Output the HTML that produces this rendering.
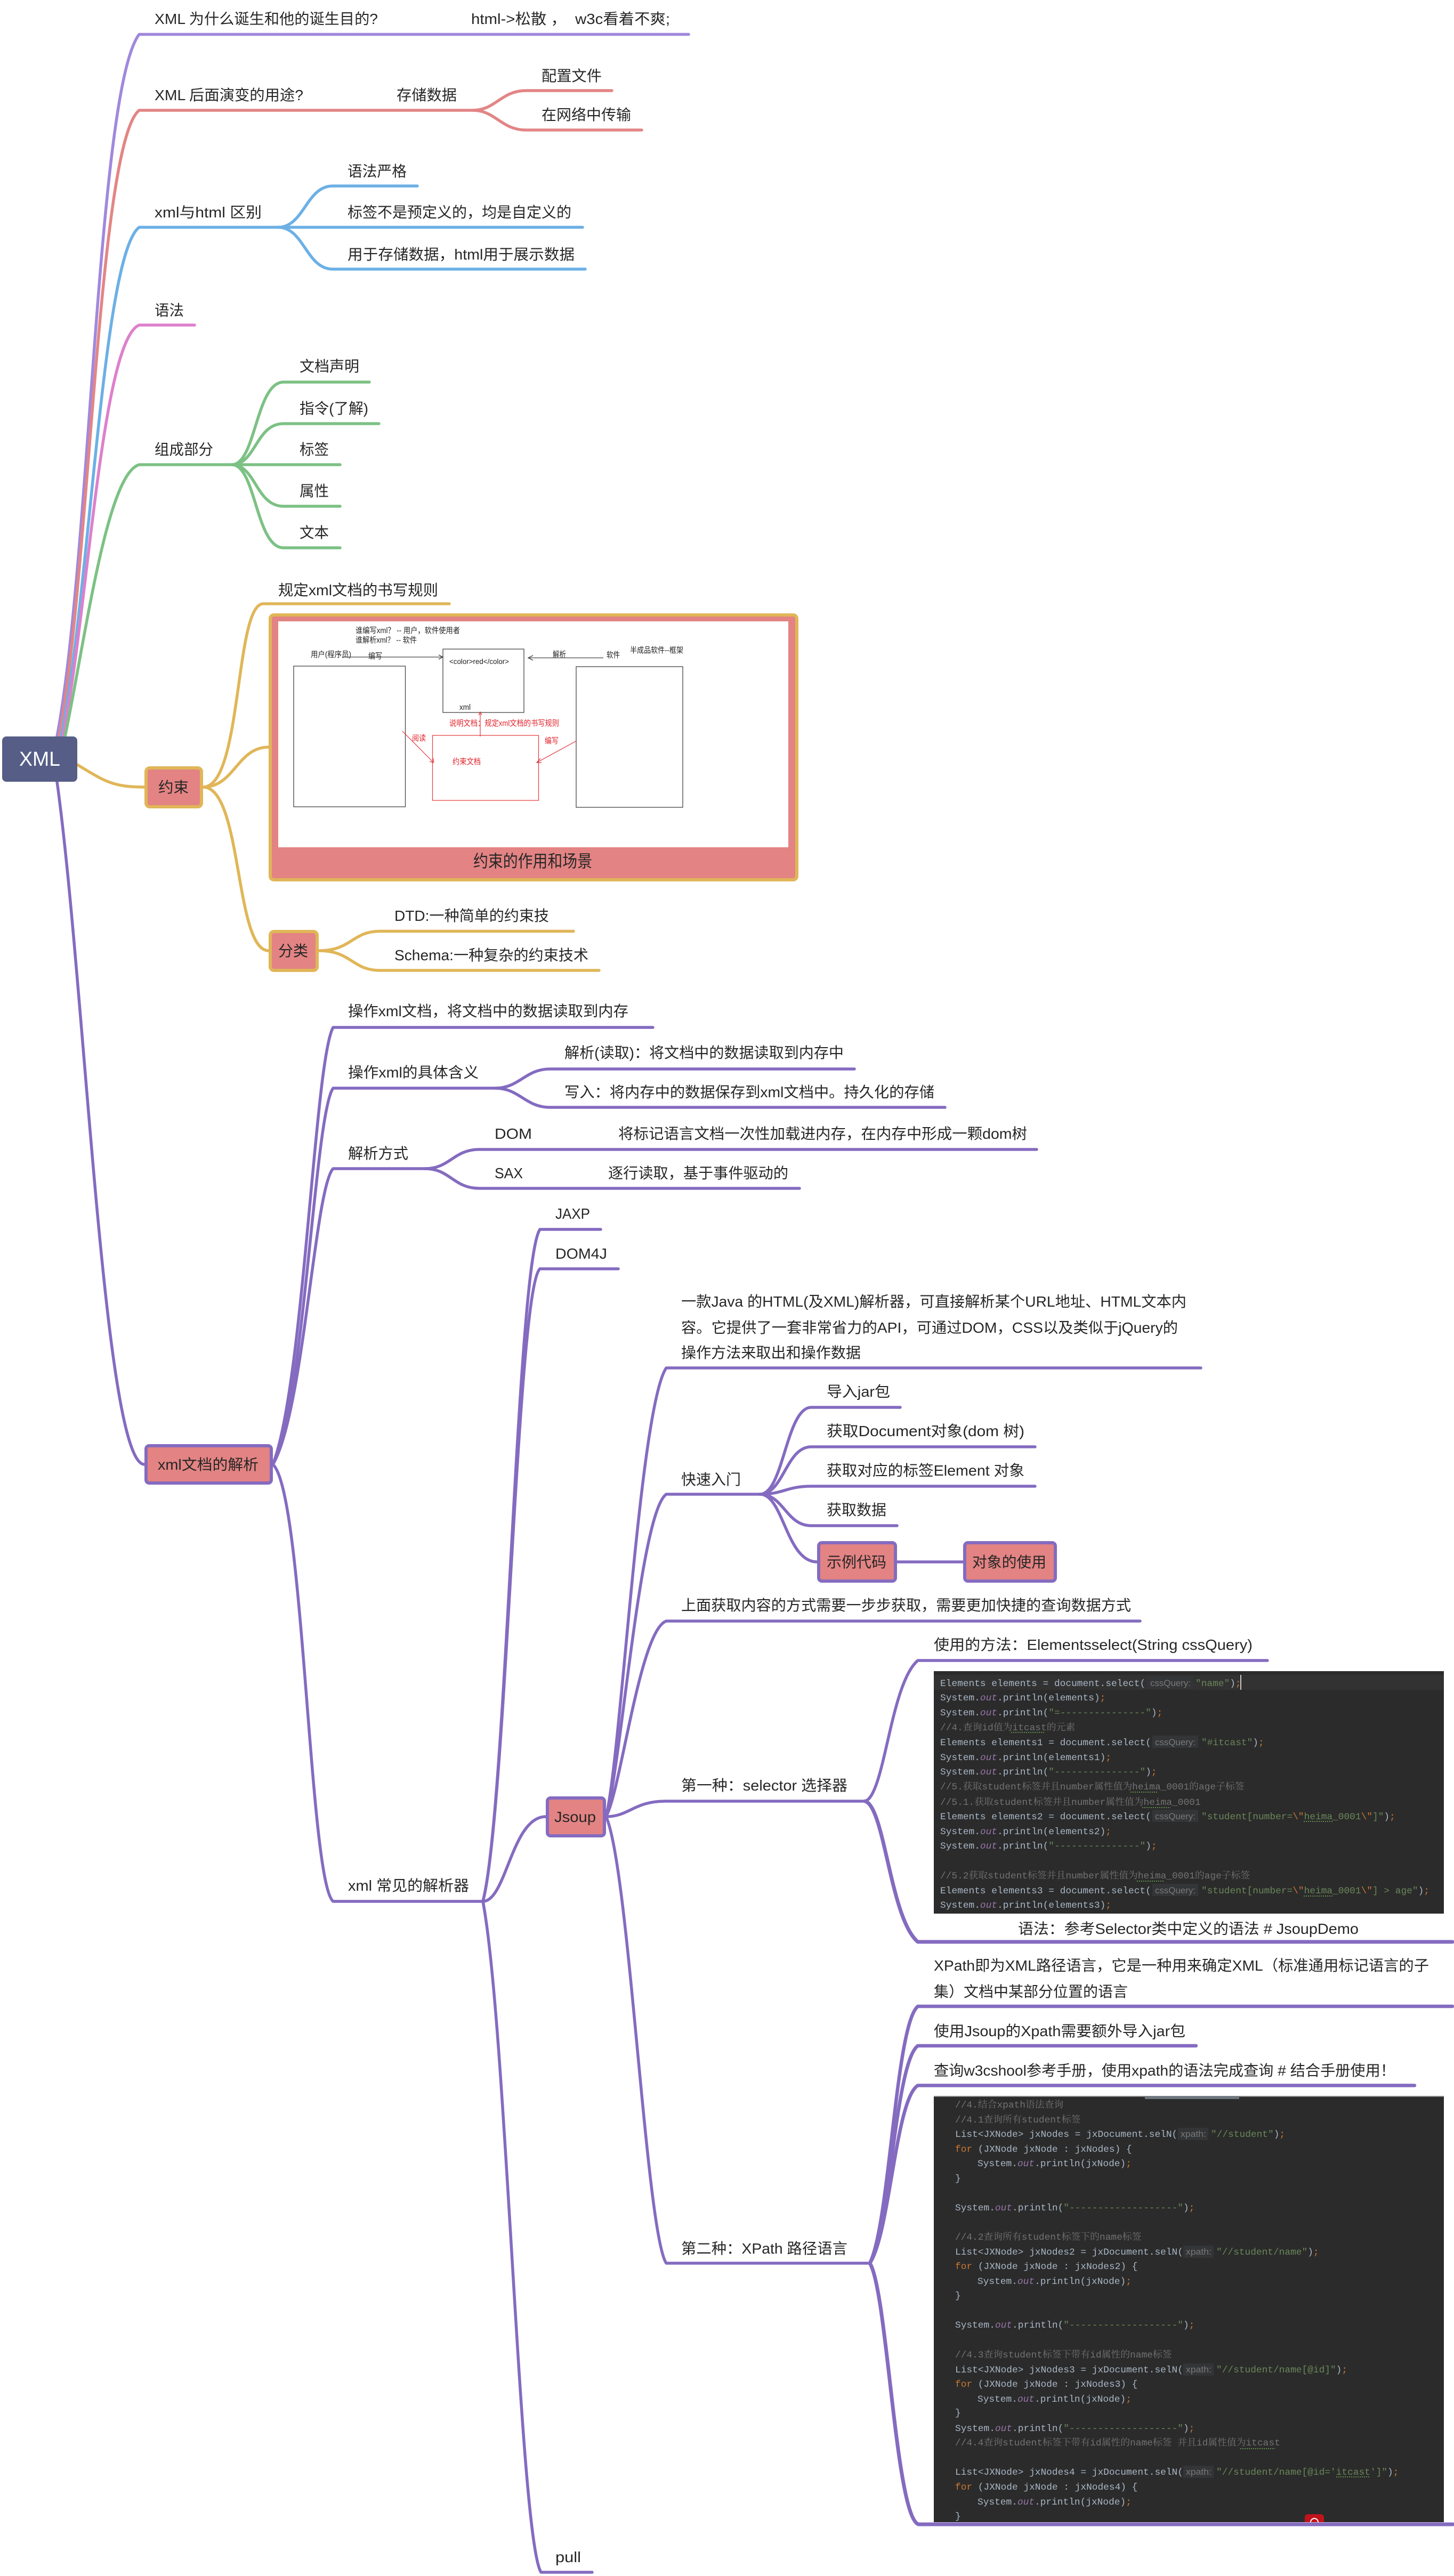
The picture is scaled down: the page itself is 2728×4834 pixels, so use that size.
<!DOCTYPE html>
<html><head><meta charset="utf-8"><style>
html,body{margin:0;padding:0;background:#fff}
svg{display:block}
text{font-family:"Liberation Sans","Noto Sans CJK SC",sans-serif;font-size:28px;fill:#262626;white-space:pre}
.l{fill:none;stroke-width:5.5;stroke-linecap:round;stroke-linejoin:round}
.p1{stroke:#a088dd}.r{stroke:#e38585}.b{stroke:#6cb0e6}.k{stroke:#dd80cc}.g{stroke:#7cc184}.y{stroke:#e0b658}.p{stroke:#846bc0}
.n{fill:#e38383;stroke-width:6}
.sm text{font-size:15px;fill:#222}
.sm .red{fill:#e2222a}
.code text{font-family:"Liberation Mono","Noto Serif CJK SC",monospace;font-size:17.83px;fill:#a9b7c6}
.code .o{font-style:italic;fill:#9876aa}
.code .s{fill:#6a8759}
.code .e{fill:#cc7832}
.code .m{fill:#737373}
.code text.h{font-family:"Liberation Sans",sans-serif;font-size:17px;fill:#787878}
.code .sq{stroke:#5f8c4f;stroke-width:2;stroke-dasharray:2 2;fill:none}
.code .hb{fill:#333537}
</style></head><body>
<svg xmlns="http://www.w3.org/2000/svg" width="2728" height="4834" viewBox="0 0 2728 4834">
<rect width="2728" height="4834" fill="#fff"/>

<!-- root branches -->
<path class="l p1" d="M107,1382C170,1050 182,170 261,64.5H1292"/>
<path class="l r" d="M111,1382C168,1080 184,270 261,207H887C930,207 940,170 987,170H1148"/>
<path class="l r" d="M887,207C930,207 940,244 987,244H1204"/>
<path class="l b" d="M115,1382C170,1100 192,480 261,426.5H1093"/>
<path class="l b" d="M522,426.5C570,426.5 575,349 624,349H783"/>
<path class="l b" d="M522,426.5C570,426.5 575,505 624,505H1098"/>
<path class="l k" d="M118,1382C165,1150 190,640 261,610H365"/>
<path class="l g" d="M122,1382C160,1200 200,890 261,872H638"/>
<path class="l g" d="M435,872C480,872 480,717 532,717H693"/>
<path class="l g" d="M435,872C480,872 480,795 532,795H711"/>
<path class="l g" d="M435,872C480,872 480,950 532,950H638"/>
<path class="l g" d="M435,872C480,872 480,1028 532,1028H638"/>

<!-- gold -->
<path class="l y" d="M145,1435C195,1465 210,1477 271,1477"/>
<path class="l y" d="M381,1477C455,1477 440,1133 494,1133H843"/>
<path class="l y" d="M381,1477C440,1477 445,1402 504,1402"/>
<path class="l y" d="M381,1477C455,1477 440,1784 504,1784"/>
<path class="l y" d="M598,1784C660,1784 660,1747.5 713,1747.5H1076"/>
<path class="l y" d="M598,1784C660,1784 660,1821 713,1821H1124"/>

<!-- purple tree -->
<path class="l p" d="M107,1467C160,1850 195,2748 271,2748"/>
<path class="l p" d="M512,2748C570,2600 590,1990 625,1928H1225"/>
<path class="l p" d="M512,2748C570,2650 590,2090 625,2042H929C975,2042 985,2006 1032,2006H1603"/>
<path class="l p" d="M929,2042C975,2042 985,2078 1032,2078H1773"/>
<path class="l p" d="M512,2748C570,2650 590,2230 625,2193H797C845,2193 850,2157 900,2157H1945"/>
<path class="l p" d="M797,2193C845,2193 850,2230 900,2230H1500"/>
<path class="l p" d="M512,2748C570,2800 580,3530 625,3568H906"/>
<path class="l p" d="M906,3568C950,3400 970,2370 1013,2307H1127"/>
<path class="l p" d="M906,3568C950,3400 970,2420 1013,2381H1160"/>
<path class="l p" d="M906,3568C950,3568 960,3409 1024,3409"/>
<path class="l p" d="M906,3568C950,3800 975,4760 1015,4827H1111"/>
<path class="l p" d="M1137,3409C1165,3300 1200,2640 1250,2567H2253"/>
<path class="l p" d="M1137,3409C1165,3320 1200,2840 1250,2804H1426"/>
<path class="l p" d="M1137,3409C1165,3360 1200,3060 1250,3042H2139"/>
<path class="l p" d="M1137,3409C1180,3409 1190,3380 1248,3380H1623"/>
<path class="l p" d="M1137,3409C1180,3500 1212,4190 1250,4247H1632"/>
<path class="l p" d="M1426,2804C1470,2804 1475,2641 1522,2641H1689"/>
<path class="l p" d="M1426,2804C1470,2804 1475,2715 1522,2715H1942"/>
<path class="l p" d="M1426,2804C1470,2804 1475,2789 1522,2789H1942"/>
<path class="l p" d="M1426,2804C1470,2804 1475,2863 1522,2863H1683"/>
<path class="l p" d="M1426,2804C1470,2804 1475,2931 1533,2931"/>
<path class="l p" d="M1683,2931H1807"/>
<path class="l p" d="M1623,3380C1660,3370 1670,3160 1722,3116H2378"/>
<path class="l p" style="stroke-width:7" d="M1623,3380C1660,3390 1670,3600 1722,3644H2725"/>
<path class="l p" style="stroke-width:6.5" d="M1632,4247C1670,4170 1680,3800 1722,3765H2725"/>
<path class="l p" style="stroke-width:6.5" d="M1632,4247C1670,4180 1680,3870 1722,3839H2244"/>
<path class="l p" style="stroke-width:6.5" d="M1632,4247C1670,4190 1680,3940 1722,3913.5H2654"/>

<!-- root -->
<rect x="4" y="1382" width="141" height="85" rx="8" fill="#565e87"/>
<text x="36" y="1437" textLength="77" lengthAdjust="spacingAndGlyphs" style="font-size:38px;fill:#fff">XML</text>

<!-- top labels -->
<text x="290" y="45" textLength="419" lengthAdjust="spacingAndGlyphs">XML 为什么诞生和他的诞生目的?</text>
<text x="884" y="45" textLength="373" lengthAdjust="spacingAndGlyphs">html-&gt;松散 ，  w3c看着不爽;</text>
<text x="290" y="188" textLength="279" lengthAdjust="spacingAndGlyphs">XML 后面演变的用途?</text>
<text x="744" y="188" textLength="113" lengthAdjust="spacingAndGlyphs">存储数据</text>
<text x="1016" y="152" textLength="113" lengthAdjust="spacingAndGlyphs">配置文件</text>
<text x="1016" y="225" textLength="168" lengthAdjust="spacingAndGlyphs">在网络中传输</text>
<text x="290" y="408" textLength="201" lengthAdjust="spacingAndGlyphs">xml与html 区别</text>
<text x="652" y="331" textLength="111" lengthAdjust="spacingAndGlyphs">语法严格</text>
<text x="652" y="408" textLength="420" lengthAdjust="spacingAndGlyphs">标签不是预定义的，均是自定义的</text>
<text x="652" y="487" textLength="426" lengthAdjust="spacingAndGlyphs">用于存储数据，html用于展示数据</text>
<text x="290" y="592" textLength="55" lengthAdjust="spacingAndGlyphs">语法</text>
<text x="290" y="853" textLength="110" lengthAdjust="spacingAndGlyphs">组成部分</text>
<text x="562" y="697" textLength="112" lengthAdjust="spacingAndGlyphs">文档声明</text>
<text x="562" y="776" textLength="129" lengthAdjust="spacingAndGlyphs">指令(了解)</text>
<text x="562" y="853" textLength="55" lengthAdjust="spacingAndGlyphs">标签</text>
<text x="562" y="931" textLength="55" lengthAdjust="spacingAndGlyphs">属性</text>
<text x="562" y="1009" textLength="55" lengthAdjust="spacingAndGlyphs">文本</text>

<!-- 约束 -->
<rect class="n y" x="274" y="1441" width="104" height="73" rx="7"/>
<text x="297" y="1487" textLength="57" lengthAdjust="spacingAndGlyphs">约束</text>
<text x="522" y="1117" textLength="300" lengthAdjust="spacingAndGlyphs">规定xml文档的书写规则</text>
<rect x="507" y="1154" width="988" height="497" rx="7" fill="#e38383" stroke="#e0b658" stroke-width="6"/>
<rect x="522" y="1166" width="957" height="424" fill="#fff"/>
<text x="888" y="1627" textLength="223" lengthAdjust="spacingAndGlyphs" style="font-size:32px">约束的作用和场景</text>

<g class="sm">
<text x="667" y="1188" textLength="196" lengthAdjust="spacingAndGlyphs">谁编写xml？ -- 用户，软件使用者</text>
<text x="667" y="1206" textLength="115" lengthAdjust="spacingAndGlyphs">谁解析xml？ -- 软件</text>
<text x="583" y="1233" textLength="76" lengthAdjust="spacingAndGlyphs">用户(程序员)</text>
<text x="691" y="1236" textLength="26" lengthAdjust="spacingAndGlyphs">编写</text>
<text x="843" y="1246" textLength="112" lengthAdjust="spacingAndGlyphs" style="font-size:14px">&lt;color&gt;red&lt;/color&gt;</text>
<text x="862" y="1332" textLength="21" lengthAdjust="spacingAndGlyphs">xml</text>
<text x="1037" y="1233" textLength="25" lengthAdjust="spacingAndGlyphs">解析</text>
<text x="1138" y="1234" textLength="25" lengthAdjust="spacingAndGlyphs">软件</text>
<text x="1182" y="1225" textLength="100" lengthAdjust="spacingAndGlyphs">半成品软件--框架</text>
<text class="red" x="843" y="1362" textLength="206" lengthAdjust="spacingAndGlyphs">说明文档：规定xml文档的书写规则</text>
<text class="red" x="773" y="1390" textLength="26" lengthAdjust="spacingAndGlyphs">阅读</text>
<text class="red" x="1022" y="1395" textLength="26" lengthAdjust="spacingAndGlyphs">编写</text>
<text class="red" x="849" y="1434" textLength="53" lengthAdjust="spacingAndGlyphs">约束文档</text>
<g fill="none" stroke="#444" stroke-width="1.3">
<rect x="551" y="1250" width="209.5" height="264"/>
<rect x="831" y="1218" width="152" height="119"/>
<rect x="1081" y="1251" width="200" height="264"/>
<path d="M642,1233H831M823,1229L831,1233L823,1237"/>
<path d="M1132,1234.5H991M1000,1230L991,1234.5L1000,1239"/>
</g>
<g fill="none" stroke="#e5353b" stroke-width="1.2">
<rect x="811.5" y="1380" width="199" height="122"/>
<path d="M901,1382V1336M898,1342L901,1336L904,1342"/>
<path d="M755,1372L813.5,1431M806,1429L813.5,1431L813,1423"/>
<path d="M1082,1390L1007,1431M1014,1423L1007,1431L1016,1431"/>
</g>
</g>

<!-- 分类 -->
<rect class="n y" x="507" y="1748" width="88" height="73" rx="7"/>
<text x="522" y="1794" textLength="56" lengthAdjust="spacingAndGlyphs">分类</text>
<text x="740" y="1728" textLength="290" lengthAdjust="spacingAndGlyphs">DTD:一种简单的约束技</text>
<text x="740" y="1802" textLength="364" lengthAdjust="spacingAndGlyphs">Schema:一种复杂的约束技术</text>

<!-- xml文档的解析 -->
<rect class="n p" x="274" y="2713" width="235" height="70" rx="6"/>
<text x="296" y="2758" textLength="189" lengthAdjust="spacingAndGlyphs">xml文档的解析</text>
<text x="653" y="1907" textLength="526" lengthAdjust="spacingAndGlyphs">操作xml文档，将文档中的数据读取到内存</text>
<text x="653" y="2022" textLength="245" lengthAdjust="spacingAndGlyphs">操作xml的具体含义</text>
<text x="1059" y="1985" textLength="524" lengthAdjust="spacingAndGlyphs">解析(读取)：将文档中的数据读取到内存中</text>
<text x="1059" y="2059" textLength="694" lengthAdjust="spacingAndGlyphs">写入：将内存中的数据保存到xml文档中。持久化的存储</text>
<text x="653" y="2174" textLength="113" lengthAdjust="spacingAndGlyphs">解析方式</text>
<text x="928" y="2137" textLength="70" lengthAdjust="spacingAndGlyphs">DOM</text>
<text x="1160" y="2137" textLength="767" lengthAdjust="spacingAndGlyphs">将标记语言文档一次性加载进内存，在内存中形成一颗dom树</text>
<text x="928" y="2211" textLength="53" lengthAdjust="spacingAndGlyphs">SAX</text>
<text x="1141" y="2211" textLength="338" lengthAdjust="spacingAndGlyphs">逐行读取，基于事件驱动的</text>
<text x="653" y="3548" textLength="227" lengthAdjust="spacingAndGlyphs">xml 常见的解析器</text>
<text x="1042" y="2287" textLength="65" lengthAdjust="spacingAndGlyphs">JAXP</text>
<text x="1042" y="2362" textLength="97" lengthAdjust="spacingAndGlyphs">DOM4J</text>
<text x="1042" y="4808" textLength="48" lengthAdjust="spacingAndGlyphs">pull</text>

<!-- Jsoup -->
<rect class="n p" x="1027" y="3374" width="107" height="71" rx="6"/>
<text x="1040" y="3419" textLength="78" lengthAdjust="spacingAndGlyphs">Jsoup</text>
<text x="1278" y="2452" textLength="948" lengthAdjust="spacingAndGlyphs">一款Java 的HTML(及XML)解析器，可直接解析某个URL地址、HTML文本内</text>
<text x="1278" y="2501" textLength="932" lengthAdjust="spacingAndGlyphs">容。它提供了一套非常省力的API，可通过DOM，CSS以及类似于jQuery的</text>
<text x="1278" y="2548" textLength="337" lengthAdjust="spacingAndGlyphs">操作方法来取出和操作数据</text>
<text x="1278" y="2786" textLength="112" lengthAdjust="spacingAndGlyphs">快速入门</text>
<text x="1551" y="2621" textLength="119" lengthAdjust="spacingAndGlyphs">导入jar包</text>
<text x="1551" y="2695" textLength="371" lengthAdjust="spacingAndGlyphs">获取Document对象(dom 树)</text>
<text x="1551" y="2769" textLength="371" lengthAdjust="spacingAndGlyphs">获取对应的标签Element 对象</text>
<text x="1551" y="2843" textLength="112" lengthAdjust="spacingAndGlyphs">获取数据</text>
<rect class="n p" x="1536" y="2895" width="144" height="72" rx="6"/>
<text x="1551" y="2941" textLength="112" lengthAdjust="spacingAndGlyphs">示例代码</text>
<rect class="n p" x="1810" y="2895" width="170" height="72" rx="6"/>
<text x="1824" y="2941" textLength="139" lengthAdjust="spacingAndGlyphs">对象的使用</text>
<text x="1278" y="3022" textLength="844" lengthAdjust="spacingAndGlyphs">上面获取内容的方式需要一步步获取，需要更加快捷的查询数据方式</text>
<text x="1278" y="3360" textLength="312" lengthAdjust="spacingAndGlyphs">第一种：selector 选择器</text>
<text x="1752" y="3096" textLength="598" lengthAdjust="spacingAndGlyphs">使用的方法：Elementsselect(String cssQuery)</text>
<text x="1910" y="3629" textLength="639" lengthAdjust="spacingAndGlyphs">语法：参考Selector类中定义的语法 # JsoupDemo</text>
<text x="1278" y="4229" textLength="312" lengthAdjust="spacingAndGlyphs">第二种：XPath 路径语言</text>
<text x="1752" y="3698" textLength="929" lengthAdjust="spacingAndGlyphs">XPath即为XML路径语言，它是一种用来确定XML（标准通用标记语言的子</text>
<text x="1752" y="3747" textLength="364" lengthAdjust="spacingAndGlyphs">集）文档中某部分位置的语言</text>
<text x="1752" y="3821" textLength="472" lengthAdjust="spacingAndGlyphs">使用Jsoup的Xpath需要额外导入jar包</text>
<text x="1752" y="3895" textLength="866" lengthAdjust="spacingAndGlyphs">查询w3cshool参考手册，使用xpath的语法完成查询 # 结合手册使用！</text>

<!-- code block 1 -->
<g class="code">
<rect x="1752" y="3136" width="957" height="455" fill="#2b2b2b"/>
<rect x="1752" y="3143" width="957" height="28" fill="#323232"/>
<rect class="hb" x="2152" y="3146" width="86" height="23"/>
<rect class="hb" x="2162" y="3257" width="86" height="23"/>
<rect class="hb" x="2162" y="3396" width="86" height="23"/>
<rect class="hb" x="2162" y="3535" width="86" height="23"/>
<text x="1764" y="3164">Elements elements = document.select(</text>
<text class="h" x="2158" y="3164" textLength="76" lengthAdjust="spacingAndGlyphs">cssQuery:</text>
<text x="2243" y="3164"><tspan class="s">"name"</tspan>)<tspan class="e">;</tspan></text>
<rect x="2327" y="3143" width="2" height="28" fill="#c8c8c8"/>
<text x="1764" y="3191">System.<tspan class="o">out</tspan>.println(elements)<tspan class="e">;</tspan></text>
<text x="1764" y="3219">System.<tspan class="o">out</tspan>.println(<tspan class="s">"=---------------"</tspan>)<tspan class="e">;</tspan></text>
<text class="m" x="1764" y="3247" style="fill:#737373">//4.查询id值为itcast的元素</text>
<text x="1764" y="3275">Elements elements1 = document.select(</text>
<text class="h" x="2167" y="3275" textLength="76" lengthAdjust="spacingAndGlyphs">cssQuery:</text>
<text x="2254" y="3275"><tspan class="s">"#itcast"</tspan>)<tspan class="e">;</tspan></text>
<text x="1764" y="3303">System.<tspan class="o">out</tspan>.println(elements1)<tspan class="e">;</tspan></text>
<text x="1764" y="3330">System.<tspan class="o">out</tspan>.println(<tspan class="s">"---------------"</tspan>)<tspan class="e">;</tspan></text>
<text class="m" x="1764" y="3358" style="fill:#737373">//5.获取student标签并且number属性值为heima_0001的age子标签</text>
<text class="m" x="1764" y="3387" style="fill:#737373">//5.1.获取student标签并且number属性值为heima_0001</text>
<text x="1764" y="3414">Elements elements2 = document.select(</text>
<text class="h" x="2167" y="3414" textLength="76" lengthAdjust="spacingAndGlyphs">cssQuery:</text>
<text x="2254" y="3414"><tspan class="s">"student[number=</tspan><tspan class="e">\"</tspan><tspan class="s">heima_0001</tspan><tspan class="e">\"</tspan><tspan class="s">]"</tspan>)<tspan class="e">;</tspan></text>
<text x="1764" y="3442">System.<tspan class="o">out</tspan>.println(elements2)<tspan class="e">;</tspan></text>
<text x="1764" y="3469">System.<tspan class="o">out</tspan>.println(<tspan class="s">"---------------"</tspan>)<tspan class="e">;</tspan></text>
<text class="m" x="1764" y="3525" style="fill:#737373">//5.2获取student标签并且number属性值为heima_0001的age子标签</text>
<text x="1764" y="3553">Elements elements3 = document.select(</text>
<text class="h" x="2167" y="3553" textLength="76" lengthAdjust="spacingAndGlyphs">cssQuery:</text>
<text x="2254" y="3553"><tspan class="s">"student[number=</tspan><tspan class="e">\"</tspan><tspan class="s">heima_0001</tspan><tspan class="e">\"</tspan><tspan class="s">] &gt; age"</tspan>)<tspan class="e">;</tspan></text>
<text x="1764" y="3580">System.<tspan class="o">out</tspan>.println(elements3)<tspan class="e">;</tspan></text>
<path class="sq" d="M1897,3251H1960M2121,3363H2173M2143,3392H2196M2446,3418H2501M2133,3530H2185M2446,3558H2501"/>
</g>

<!-- code block 2 -->
<g class="code">
<rect x="1752" y="3933" width="957" height="800" fill="#2b2b2b"/>
<rect x="1752" y="3933" width="957" height="2" fill="#8a8a8a"/>
<rect x="2148" y="3934" width="177" height="5" fill="#6b7680"/>
<rect class="hb" x="2210" y="3993" width="57" height="23"/>
<rect class="hb" x="2220" y="4214" width="57" height="23"/>
<rect class="hb" x="2220" y="4435" width="57" height="23"/>
<rect class="hb" x="2220" y="4627" width="57" height="23"/>
<text x="1792" y="3955" style="fill:#737373">//4.结合xpath语法查询</text>
<text x="1792" y="3983" style="fill:#737373">//4.1查询所有student标签</text>
<text x="1792" y="4010">List&lt;JXNode&gt; jxNodes = jxDocument.selN(</text>
<text class="h" x="2215" y="4010" textLength="48" lengthAdjust="spacingAndGlyphs">xpath:</text>
<text x="2272" y="4010"><tspan class="s">"//student"</tspan>)<tspan class="e">;</tspan></text>
<text x="1792" y="4038"><tspan class="e">for</tspan> (JXNode jxNode : jxNodes) {</text>
<text x="1834" y="4065">System.<tspan class="o">out</tspan>.println(jxNode)<tspan class="e">;</tspan></text>
<text x="1792" y="4093">}</text>
<text x="1792" y="4148">System.<tspan class="o">out</tspan>.println(<tspan class="s">"-------------------"</tspan>)<tspan class="e">;</tspan></text>
<text x="1792" y="4203" style="fill:#737373">//4.2查询所有student标签下的name标签</text>
<text x="1792" y="4231">List&lt;JXNode&gt; jxNodes2 = jxDocument.selN(</text>
<text class="h" x="2225" y="4231" textLength="48" lengthAdjust="spacingAndGlyphs">xpath:</text>
<text x="2282" y="4231"><tspan class="s">"//student/name"</tspan>)<tspan class="e">;</tspan></text>
<text x="1792" y="4258"><tspan class="e">for</tspan> (JXNode jxNode : jxNodes2) {</text>
<text x="1834" y="4286">System.<tspan class="o">out</tspan>.println(jxNode)<tspan class="e">;</tspan></text>
<text x="1792" y="4313">}</text>
<text x="1792" y="4368">System.<tspan class="o">out</tspan>.println(<tspan class="s">"-------------------"</tspan>)<tspan class="e">;</tspan></text>
<text x="1792" y="4424" style="fill:#737373">//4.3查询student标签下带有id属性的name标签</text>
<text x="1792" y="4452">List&lt;JXNode&gt; jxNodes3 = jxDocument.selN(</text>
<text class="h" x="2225" y="4452" textLength="48" lengthAdjust="spacingAndGlyphs">xpath:</text>
<text x="2282" y="4452"><tspan class="s">"//student/name[@id]"</tspan>)<tspan class="e">;</tspan></text>
<text x="1792" y="4479"><tspan class="e">for</tspan> (JXNode jxNode : jxNodes3) {</text>
<text x="1834" y="4507">System.<tspan class="o">out</tspan>.println(jxNode)<tspan class="e">;</tspan></text>
<text x="1792" y="4533">}</text>
<text x="1792" y="4562">System.<tspan class="o">out</tspan>.println(<tspan class="s">"-------------------"</tspan>)<tspan class="e">;</tspan></text>
<text x="1792" y="4589" style="fill:#737373">//4.4查询student标签下带有id属性的name标签 并且id属性值为itcast</text>
<text x="1792" y="4644">List&lt;JXNode&gt; jxNodes4 = jxDocument.selN(</text>
<text class="h" x="2225" y="4644" textLength="48" lengthAdjust="spacingAndGlyphs">xpath:</text>
<text x="2282" y="4644"><tspan class="s">"//student/name[@id='itcast']"</tspan>)<tspan class="e">;</tspan></text>
<text x="1792" y="4672"><tspan class="e">for</tspan> (JXNode jxNode : jxNodes4) {</text>
<text x="1834" y="4700">System.<tspan class="o">out</tspan>.println(jxNode)<tspan class="e">;</tspan></text>
<text x="1792" y="4727">}</text>
<path class="sq" d="M2327,4595H2392M2507,4648H2569"/>
<path d="M2448,4733V4724a6,6 0 0 1 6,-6H2478a6,6 0 0 1 6,6V4733Z" fill="#c0141a"/>
<path d="M2459,4733a7,7 0 0 1 14,0" fill="none" stroke="#fff" stroke-width="2"/>
</g>
<path class="l p" style="stroke-width:7" d="M1632,4247C1665,4300 1680,4720 1723,4737H2726"/>
</svg>
</body></html>
